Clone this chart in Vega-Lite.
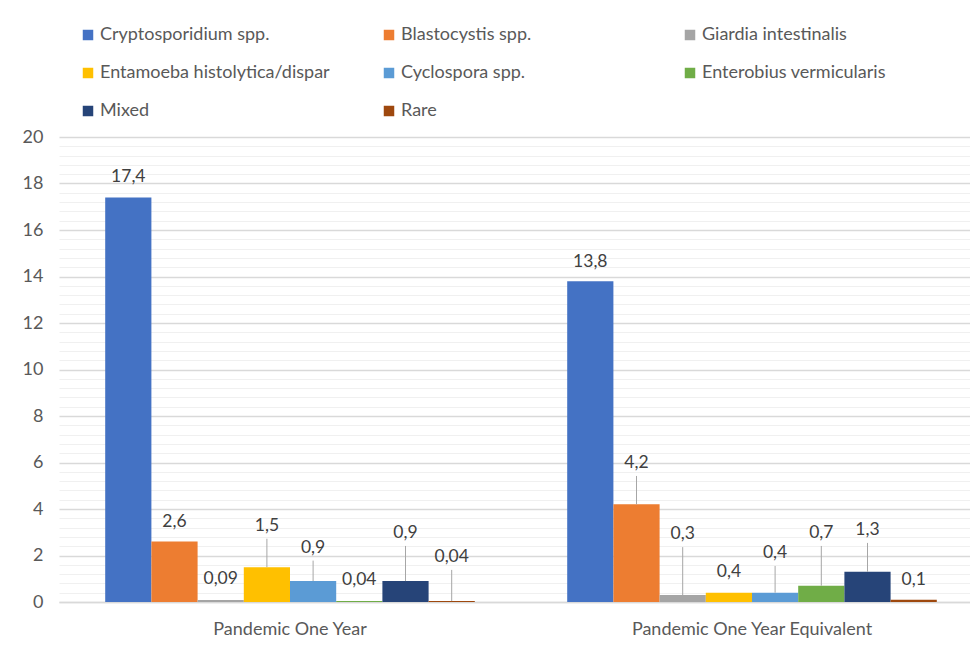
{
  "$schema": "https://vega.github.io/schema/vega-lite/v6.json",
  "autosize": {"type": "none"},
  "width": 924,
  "height": 465,
  "padding": {"left": 59, "top": 137, "right": 0, "bottom": 43},
  "background": "white",
  "config": {
    "font": "Lato",
    "locale": {"number": {"decimal": ",", "thousands": ".", "grouping": [3], "currency": ["", " €"]}},
    "view": {"stroke": null}
  },
  "data": {
    "values": [
      {"period": "Pandemic One Year", "species": "Cryptosporidium spp.", "value": 17.4, "labelPos": 18.27, "leader": false},
      {"period": "Pandemic One Year", "species": "Blastocystis spp.", "value": 2.6, "labelPos": 3.44, "leader": false},
      {"period": "Pandemic One Year", "species": "Giardia intestinalis", "value": 0.09, "labelPos": 0.99, "leader": false},
      {"period": "Pandemic One Year", "species": "Entamoeba histolytica/dispar", "value": 1.5, "labelPos": 3.28, "leader": true},
      {"period": "Pandemic One Year", "species": "Cyclospora spp.", "value": 0.9, "labelPos": 2.34, "leader": true},
      {"period": "Pandemic One Year", "species": "Enterobius vermicularis", "value": 0.04, "labelPos": 0.95, "leader": false},
      {"period": "Pandemic One Year", "species": "Mixed", "value": 0.9, "labelPos": 2.97, "leader": true},
      {"period": "Pandemic One Year", "species": "Rare", "value": 0.04, "labelPos": 1.94, "leader": true},
      {"period": "Pandemic One Year Equivalent", "species": "Cryptosporidium spp.", "value": 13.8, "labelPos": 14.62, "leader": false},
      {"period": "Pandemic One Year Equivalent", "species": "Blastocystis spp.", "value": 4.2, "labelPos": 5.98, "leader": true},
      {"period": "Pandemic One Year Equivalent", "species": "Giardia intestinalis", "value": 0.3, "labelPos": 2.92, "leader": true},
      {"period": "Pandemic One Year Equivalent", "species": "Entamoeba histolytica/dispar", "value": 0.4, "labelPos": 1.29, "leader": false},
      {"period": "Pandemic One Year Equivalent", "species": "Cyclospora spp.", "value": 0.4, "labelPos": 2.11, "leader": true},
      {"period": "Pandemic One Year Equivalent", "species": "Enterobius vermicularis", "value": 0.7, "labelPos": 2.97, "leader": true},
      {"period": "Pandemic One Year Equivalent", "species": "Mixed", "value": 1.3, "labelPos": 3.10, "leader": true},
      {"period": "Pandemic One Year Equivalent", "species": "Rare", "value": 0.1, "labelPos": 0.95, "leader": false}
    ]
  },
  "encoding": {
    "x": {
      "field": "period", "type": "nominal", "sort": ["Pandemic One Year", "Pandemic One Year Equivalent"],
      "scale": {"paddingInner": 0.2, "paddingOuter": 0.1},
      "axis": {"title": null, "labelAngle": 0, "labelFontSize": 18, "labelColor": "#595959", "labelPadding": 18, "labelLimit": 500, "ticks": false, "domainColor": "#D9D9D9", "domainWidth": 1.5}
    },
    "xOffset": {
      "field": "species", "type": "nominal",
      "sort": ["Cryptosporidium spp.", "Blastocystis spp.", "Giardia intestinalis", "Entamoeba histolytica/dispar", "Cyclospora spp.", "Enterobius vermicularis", "Mixed", "Rare"],
      "scale": {"paddingInner": 0, "paddingOuter": 0}
    }
  },
  "layer": [
    {
      "mark": {"type": "bar"},
      "encoding": {
        "y": {
          "field": "value", "type": "quantitative", "scale": {"domain": [0, 20], "nice": false},
          "axis": {
            "title": null,
            "values": [0,0.4,0.8,1.2,1.6,2,2.4,2.8,3.2,3.6,4,4.4,4.8,5.2,5.6,6,6.4,6.8,7.2,7.6,8,8.4,8.8,9.2,9.6,10,10.4,10.8,11.2,11.6,12,12.4,12.8,13.2,13.6,14,14.4,14.8,15.2,15.6,16,16.4,16.8,17.2,17.6,18,18.4,18.8,19.2,19.6,20],
            "labelExpr": "abs(datum.value - round(datum.value/2)*2) < 0.01 ? toString(round(datum.value)) : ''",
            "labelOverlap": false,
            "labelFontSize": 18, "labelColor": "#595959", "labelPadding": 16,
            "ticks": false, "domain": false, "grid": true,
            "gridColor": {"condition": {"test": "abs(datum.value - round(datum.value/2)*2) < 0.01", "value": "#D9D9D9"}, "value": "#F0F0F0"},
            "gridWidth": {"condition": {"test": "abs(datum.value - round(datum.value/2)*2) < 0.01", "value": 1.5}, "value": 1}
          }
        },
        "color": {
          "field": "species", "type": "nominal",
          "scale": {
            "domain": ["Cryptosporidium spp.", "Blastocystis spp.", "Giardia intestinalis", "Entamoeba histolytica/dispar", "Cyclospora spp.", "Enterobius vermicularis", "Mixed", "Rare"],
            "range": ["#4472C4", "#ED7D31", "#A5A5A5", "#FFC000", "#5B9BD5", "#70AD47", "#264478", "#9E480E"]
          },
          "legend": {
            "title": null, "orient": "none", "legendX": 20, "legendY": -111, "direction": "horizontal",
            "columns": 3, "gridAlign": "all", "columnPadding": 50, "rowPadding": 20,
            "symbolType": "square", "symbolSize": 110, "symbolStrokeWidth": 0, "symbolOffset": 0,
            "labelFontSize": 18, "labelColor": "#595959", "labelLimit": 400, "labelOffset": 3
          }
        }
      }
    },
    {
      "transform": [{"filter": "datum.leader"}],
      "mark": {"type": "rule", "color": "#A6A6A6", "strokeWidth": 1, "y2Offset": 13},
      "encoding": {
        "y": {
          "field": "value", "type": "quantitative",
          "axis": {
            "title": null,
            "values": [0,0.4,0.8,1.2,1.6,2,2.4,2.8,3.2,3.6,4,4.4,4.8,5.2,5.6,6,6.4,6.8,7.2,7.6,8,8.4,8.8,9.2,9.6,10,10.4,10.8,11.2,11.6,12,12.4,12.8,13.2,13.6,14,14.4,14.8,15.2,15.6,16,16.4,16.8,17.2,17.6,18,18.4,18.8,19.2,19.6,20],
            "labelExpr": "abs(datum.value - round(datum.value/2)*2) < 0.01 ? toString(round(datum.value)) : ''",
            "labelOverlap": false,
            "labelFontSize": 18, "labelColor": "#595959", "labelPadding": 16,
            "ticks": false, "domain": false, "grid": true,
            "gridColor": {"condition": {"test": "abs(datum.value - round(datum.value/2)*2) < 0.01", "value": "#D9D9D9"}, "value": "#F0F0F0"},
            "gridWidth": {"condition": {"test": "abs(datum.value - round(datum.value/2)*2) < 0.01", "value": 1.5}, "value": 1}
          }
        },
        "y2": {"field": "labelPos"}
      }
    },
    {
      "mark": {"type": "text", "fontSize": 17.5, "color": "#404040", "baseline": "middle"},
      "encoding": {
        "y": {
          "field": "labelPos", "type": "quantitative",
          "axis": {
            "title": null,
            "values": [0,0.4,0.8,1.2,1.6,2,2.4,2.8,3.2,3.6,4,4.4,4.8,5.2,5.6,6,6.4,6.8,7.2,7.6,8,8.4,8.8,9.2,9.6,10,10.4,10.8,11.2,11.6,12,12.4,12.8,13.2,13.6,14,14.4,14.8,15.2,15.6,16,16.4,16.8,17.2,17.6,18,18.4,18.8,19.2,19.6,20],
            "labelExpr": "abs(datum.value - round(datum.value/2)*2) < 0.01 ? toString(round(datum.value)) : ''",
            "labelOverlap": false,
            "labelFontSize": 18, "labelColor": "#595959", "labelPadding": 16,
            "ticks": false, "domain": false, "grid": true,
            "gridColor": {"condition": {"test": "abs(datum.value - round(datum.value/2)*2) < 0.01", "value": "#D9D9D9"}, "value": "#F0F0F0"},
            "gridWidth": {"condition": {"test": "abs(datum.value - round(datum.value/2)*2) < 0.01", "value": 1.5}, "value": 1}
          }
        },
        "text": {"field": "value", "type": "quantitative", "format": ".2~f"}
      }
    }
  ]
}
